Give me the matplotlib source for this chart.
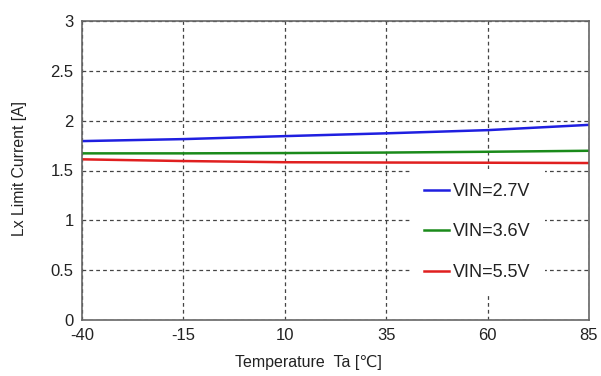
import matplotlib
matplotlib.use("Agg")
import matplotlib.pyplot as plt

plt.rcParams['font.family'] = ['Liberation Sans', 'DejaVu Sans']

temps = [-40, -15, 10, 35, 60, 85]
vin27 = [1.795, 1.815, 1.845, 1.873, 1.905, 1.958]
vin36 = [1.672, 1.672, 1.675, 1.680, 1.688, 1.698]
vin55 = [1.612, 1.595, 1.583, 1.580, 1.578, 1.575]
labels = ["VIN=2.7V", "VIN=3.6V", "VIN=5.5V"]
colors = ["#1f1fe0", "#1a8a1a", "#e01f1f"]
yticks = [0, 0.5, 1, 1.5, 2, 2.5, 3]
ytick_labels = ["0", "0.5", "1", "1.5", "2", "2.5", "3"]

fig = plt.figure(figsize=(6.01, 3.76), dpi=100)
ax = fig.add_axes([82/601, 56/376, 507/601, 299/376])

for ys, lab, c in zip([vin27, vin36, vin55], labels, colors):
    ax.plot(temps, ys, color=c, lw=1.8, label=lab)

ax.set_xlim(-40, 85)
ax.set_ylim(0, 3)
ax.set_xticks(temps)
ax.set_xticklabels([str(t) for t in temps])
ax.set_yticks(yticks)
ax.set_yticklabels(ytick_labels)
ax.tick_params(length=0, labelsize=12, colors="#222222", pad=6)
ax.grid(True, ls=(0, (3, 2.5)), color="#444444", lw=0.9)
for s in ax.spines.values():
    s.set_color("#666666")
    s.set_linewidth(1.2)

ax.set_xlabel("Temperature  Ta [℃]", fontsize=11.5, color="#222222")
ax.xaxis.set_label_coords((308-82)/507, -(363-320)/299)
ax.xaxis.label.set_va("center")
ax.set_ylabel("Lx Limit Current [A]", fontsize=11.3, color="#222222")
ax.yaxis.set_label_coords(-(82-20)/507, (320-168)/299)
ax.yaxis.label.set_va("center")

leg = ax.legend(loc="center", bbox_to_anchor=(0.78, (320-232)/299), fontsize=13,
                frameon=True, facecolor="white", edgecolor="white", framealpha=1,
                fancybox=False, handlelength=1.4, handletextpad=0.2,
                labelspacing=1.3, borderpad=0.8, borderaxespad=0)
leg.get_frame().set_linewidth(0)
for t in leg.get_texts():
    t.set_color("#222222")

fig.savefig("out.png", dpi=100)
